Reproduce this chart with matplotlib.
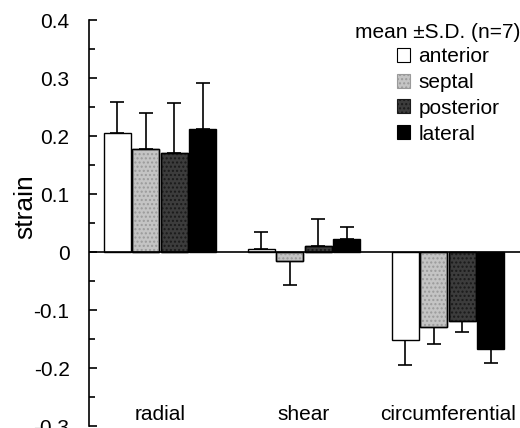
import matplotlib
matplotlib.use("Agg")
import matplotlib.pyplot as plt
from matplotlib.patches import Patch
from matplotlib.ticker import MultipleLocator
import numpy as np

plt.rcParams['font.family'] = ['Liberation Sans', 'DejaVu Sans']

categories = ["radial", "shear", "circumferential"]
regions = ["anterior", "septal", "posterior", "lateral"]
means = {
    "anterior":  [0.205, 0.005, -0.152],
    "septal":    [0.178, -0.016, -0.129],
    "posterior": [0.171, 0.010, -0.119],
    "lateral":   [0.212, 0.022, -0.167],
}
sds = {
    "anterior":  [0.054, 0.029, 0.043],
    "septal":    [0.062, 0.041, 0.030],
    "posterior": [0.086, 0.047, 0.019],
    "lateral":   [0.079, 0.021, 0.024],
}
colors = {"anterior": "white", "septal": "#c4c4c4", "posterior": "#3c3c3c", "lateral": "black"}
hatches = {"anterior": None, "septal": "....", "posterior": "....", "lateral": None}
hatch_colors = {"anterior": "black", "septal": "#9a9a9a", "posterior": "#1a1a1a", "lateral": "black"}
legend_title = "mean \u00b1S.D. (n=7)"

fig = plt.figure(figsize=(5.2, 4.28), dpi=100)
ax = fig.add_axes([89/520, 2/428, 1 - 89/520, 1 - 22/428])

x = np.arange(len(categories))
width = 0.19
step = 0.198
for i, r in enumerate(regions):
    pos = x + (i - 1.5) * step
    m = np.array(means[r])
    s = np.array(sds[r])
    lower = np.where(m < 0, s, 0)
    upper = np.where(m >= 0, s, 0)
    ax.bar(pos, m, width=width, color=colors[r], edgecolor="black", linewidth=1.0, zorder=2)
    if hatches[r]:
        ax.bar(pos, m, width=width, color="none", edgecolor=hatch_colors[r], linewidth=0,
               hatch=hatches[r], zorder=2.1)
        ax.bar(pos, m, width=width, color="none", edgecolor="black", linewidth=1.0, zorder=2.2)
    ax.errorbar(pos, m, yerr=[lower, upper], fmt="none", ecolor="black", elinewidth=1.2,
                capsize=5, capthick=1.2, zorder=1)

ax.axhline(0, color="black", linewidth=1.2, zorder=3)
ax.set_xlim(-0.493, 2.5)
ax.set_ylim(-0.3, 0.4)
ax.yaxis.set_minor_locator(MultipleLocator(0.05))
ax.set_yticks(np.round(np.arange(-0.3, 0.41, 0.1), 1))
ax.set_yticklabels(["-0.3", "-0.2", "-0.1", "0", "0.1", "0.2", "0.3", "0.4"], fontsize=15)
ax.tick_params(axis="y", which="major", direction="in", length=6, width=1.2, pad=14)
ax.tick_params(axis="y", which="minor", direction="in", length=4, width=1.2)
ax.set_xticks([])
for sp in ["top", "right", "bottom"]:
    ax.spines[sp].set_visible(False)
ax.spines["left"].set_linewidth(1.2)
ax.set_ylabel("strain", fontsize=19)
ax.yaxis.set_label_coords(-0.12, 0.54)

for xi, c in zip(x, categories):
    ax.text(xi, -0.28, c, ha="center", va="center", fontsize=15)

handles = []
for r in regions:
    handles.append(Patch(facecolor=colors[r], edgecolor=hatch_colors[r] if hatches[r] else "black",
                         linewidth=0.8, hatch=hatches[r]))
leg = ax.legend(handles, regions, loc="upper left", bbox_to_anchor=((400 - 89) / 431 - 0.008, 1 - 27 / 406),
                frameon=False, fontsize=15, handlelength=0.65, handleheight=0.65,
                handletextpad=0.4, labelspacing=0.33, borderpad=0, borderaxespad=0)
fig.text(1.0, 1 - 32 / 428, legend_title, ha="right", va="center", fontsize=15)

fig.savefig("out.png", dpi=100)
